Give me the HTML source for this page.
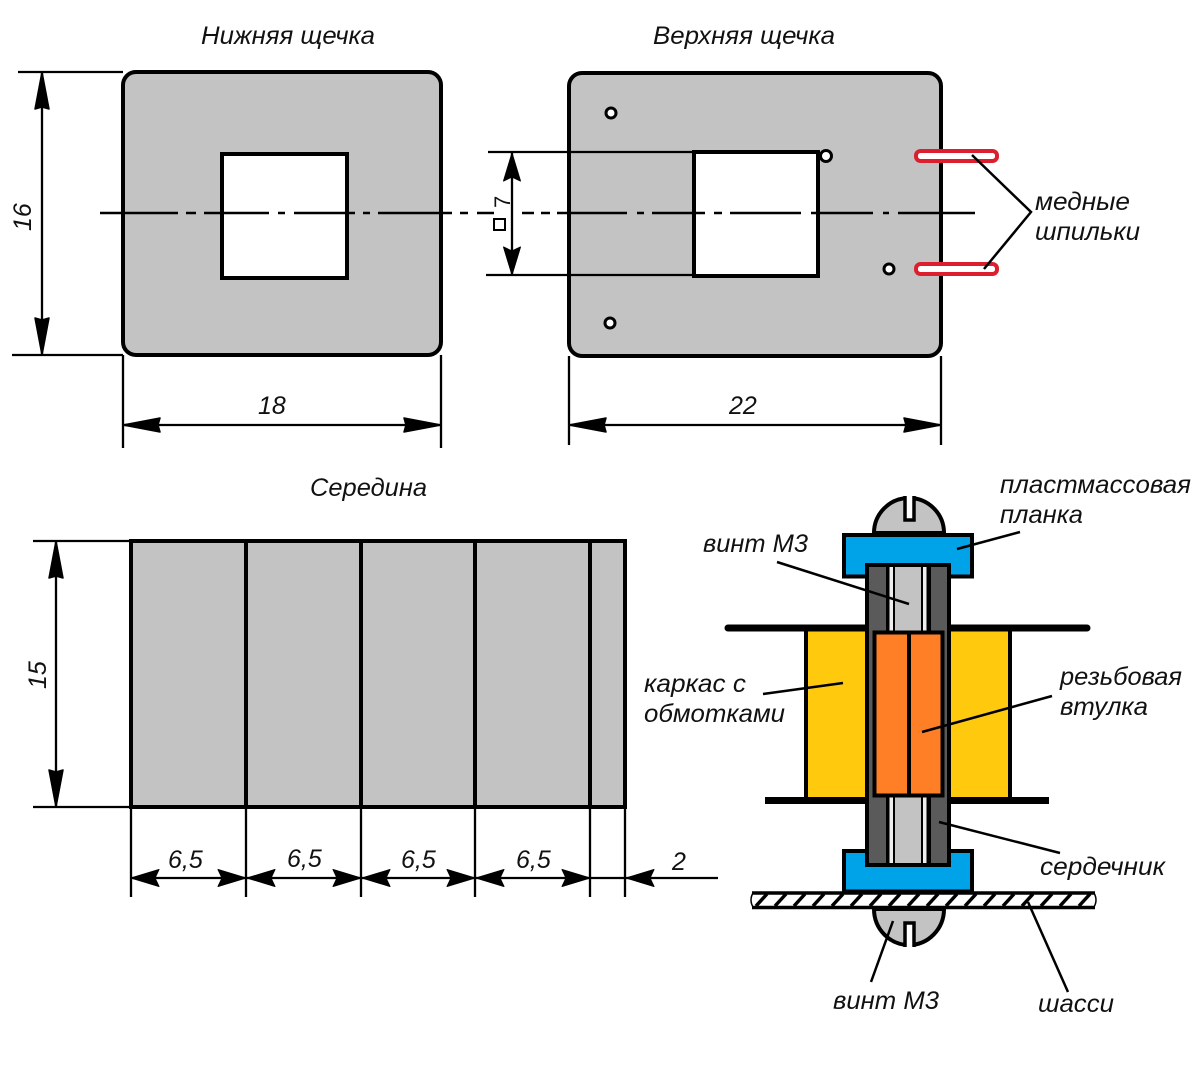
<!DOCTYPE html>
<html lang="ru">
<head>
<meta charset="utf-8">
<title>Чертёж</title>
<style>
html,body{margin:0;padding:0;background:#fff}
svg{display:block}
text{font-family:"Liberation Sans",sans-serif;font-style:italic;font-size:25px;fill:#111}
</style>
</head>
<body>
<svg xmlns="http://www.w3.org/2000/svg" width="1200" height="1067" viewBox="0 0 1200 1067">
<defs>
<path id="a" d="M0 0L28 -8.500L24 0L28 8.500Z" fill="#000" stroke="#000" stroke-width="1" stroke-linejoin="round"/>
<path id="b" d="M0 0L37 -7L35 0L37 7Z" fill="#000" stroke="#000" stroke-width="1.500" stroke-linejoin="round"/>
</defs>
<rect width="1200" height="1067" fill="#fff"/>

<!-- plates -->
<rect x="123" y="72" width="318" height="283" rx="13" fill="#c3c3c3" stroke="#000" stroke-width="4"/>
<rect x="222" y="154" width="125" height="124" fill="#fff" stroke="#000" stroke-width="4"/>
<rect x="569" y="73" width="372" height="283" rx="13" fill="#c3c3c3" stroke="#000" stroke-width="4"/>
<rect x="694" y="152" width="124" height="124" fill="#fff" stroke="#000" stroke-width="4"/>
<g fill="#fff" stroke="#000" stroke-width="3">
<circle cx="611" cy="113" r="5"/>
<circle cx="610" cy="323" r="5"/>
<circle cx="826" cy="156" r="5.500"/>
<circle cx="889" cy="269" r="5"/>
</g>

<!-- centre line -->
<path stroke="#000" stroke-width="2.500" fill="none" d="M100 213H178M186 213H196M204 213H269M278 213H285M294 213H355M363 213H370M378 213H452M460 213H468M477 213H494M522 213H534M541 213H550M557 213H627M637 213H644M652 213H705M714 213H722M730 213H801M811 213H816M818 213H873M883 213H889M898 213H975"/>

<!-- extension lines top -->
<g stroke="#000" stroke-width="2.300" fill="none">
<path d="M18 72H123M12 355H123M123 355V448M441 355V448M569 356V445M941 356V445M488 152H694M486 275H694"/>
<path d="M42 72V355M123 425H441M569 425H941M512 153V275"/>
<path d="M33 541H131M33 807H131M56 541V807"/>
<path d="M131 807V897M246 807V897M361 807V897M475 807V897M590 807V897M625 807V897M131 878H718"/>
</g>

<!-- arrowheads -->
<use href="#b" transform="translate(42 72) rotate(90)"/>
<use href="#b" transform="translate(42 355) rotate(-90)"/>
<use href="#b" transform="translate(123 425)"/>
<use href="#b" transform="translate(441 425) rotate(180)"/>
<use href="#b" transform="translate(569 425)"/>
<use href="#b" transform="translate(941 425) rotate(180)"/>
<use href="#a" transform="translate(512 153) rotate(90)"/>
<use href="#a" transform="translate(512 275) rotate(-90)"/>
<use href="#b" transform="translate(56 541) rotate(90)"/>
<use href="#b" transform="translate(56 807) rotate(-90)"/>
<use href="#a" transform="translate(131 878)"/>
<use href="#a" transform="translate(246 878) rotate(180)"/>
<use href="#a" transform="translate(247 878)"/>
<use href="#a" transform="translate(361 878) rotate(180)"/>
<use href="#a" transform="translate(362 878)"/>
<use href="#a" transform="translate(475 878) rotate(180)"/>
<use href="#a" transform="translate(476 878)"/>
<use href="#a" transform="translate(590 878) rotate(180)"/>
<use href="#a" transform="translate(626 878)"/>

<!-- pins -->
<g fill="#fff" stroke="#dc1f2e" stroke-width="4">
<rect x="916" y="151" width="81" height="10" rx="4.500"/>
<rect x="916" y="264" width="81" height="10" rx="4.500"/>
</g>
<path d="M972 155L1031 212L984 269" fill="none" stroke="#000" stroke-width="2.500"/>

<!-- middle -->
<rect x="131" y="541" width="494" height="266" fill="#c3c3c3" stroke="#000" stroke-width="4"/>
<path d="M246 541V807M361 541V807M475 541V807M590 541V807" stroke="#000" stroke-width="4"/>

<!-- section: top screw -->
<path d="M874 533A35 35 0 0 1 944 533Z" fill="#c3c3c3" stroke="#000" stroke-width="4"/>
<path d="M905 496V520H914V496" fill="#fff" stroke="#000" stroke-width="3.500"/>

<!-- bottom screw -->
<path d="M874 909A35 36 0 0 0 944 909Z" fill="#c3c3c3" stroke="#000" stroke-width="4"/>
<path d="M905 947V923H914V947" fill="#fff" stroke="#000" stroke-width="3.500"/>

<!-- chassis -->
<path d="M752 893H1095M752 907.500H1095" stroke="#000" stroke-width="3.500" fill="none"/>
<path d="M753 893Q749 900 753 907M1094 893Q1098 900 1094 907" stroke="#000" stroke-width="1.500" fill="none"/>
<path stroke="#000" stroke-width="3.500" fill="none" d="M756 906L767 894M775 906L786 894M794 906L805 894M813 906L824 894M832 906L843 894M851 906L862 894M870 906L881 894M889 906L900 894M908 906L919 894M927 906L938 894M946 906L957 894M965 906L976 894M984 906L995 894M1003 906L1014 894M1022 906L1033 894M1041 906L1052 894M1060 906L1071 894M1079 906L1090 894"/>

<!-- blue bars -->
<rect x="844" y="535" width="128" height="41.500" fill="#00a2e8" stroke="#000" stroke-width="4"/>
<path d="M844 891.500V851H972V891.500Z" fill="#00a2e8" stroke="#000" stroke-width="4"/>

<!-- yellow bobbin -->
<rect x="806" y="628" width="204" height="172" fill="#ffc90e" stroke="#000" stroke-width="4"/>
<path d="M728 628H1087" stroke="#000" stroke-width="7" stroke-linecap="round"/>
<path d="M765 800.500H1049" stroke="#000" stroke-width="7"/>

<!-- core -->
<rect x="867" y="565" width="82" height="300" fill="#5a5a5a" stroke="#000" stroke-width="4"/>
<rect x="886" y="567" width="45" height="296" fill="#000"/>
<rect x="889.500" y="567" width="3.500" height="296" fill="#eee"/>
<rect x="895" y="567" width="26" height="296" fill="#c3c3c3"/>
<rect x="923" y="567" width="3.500" height="296" fill="#eee"/>
<!-- bushing -->
<rect x="874.500" y="632.500" width="68" height="163" fill="#ff7f27" stroke="#000" stroke-width="4"/>
<path d="M909 632V796" stroke="#000" stroke-width="4"/>

<!-- leaders -->
<g stroke="#000" stroke-width="2.500" fill="none">
<path d="M777 562L909 604"/>
<path d="M1020 532L957 549"/>
<path d="M763 694L843 683"/>
<path d="M1052 696L922 732"/>
<path d="M939 822L1060 853"/>
<path d="M893 921L871 982"/>
<path d="M1028 902L1068 992"/>
</g>

<!-- labels -->
<text x="201" y="44" textLength="174" lengthAdjust="spacingAndGlyphs">Нижняя щечка</text>
<text x="653" y="44" textLength="182" lengthAdjust="spacingAndGlyphs">Верхняя щечка</text>
<text x="310" y="496" textLength="117" lengthAdjust="spacingAndGlyphs">Середина</text>
<text x="1035" y="210" textLength="95" lengthAdjust="spacingAndGlyphs">медные</text>
<text x="1035" y="240" textLength="105" lengthAdjust="spacingAndGlyphs">шпильки</text>
<text x="1000" y="493" textLength="191" lengthAdjust="spacingAndGlyphs">пластмассовая</text>
<text x="1000" y="523" textLength="83" lengthAdjust="spacingAndGlyphs">планка</text>
<text x="703" y="552" textLength="105" lengthAdjust="spacingAndGlyphs">винт М3</text>
<text x="644" y="692" textLength="102" lengthAdjust="spacingAndGlyphs">каркас с</text>
<text x="644" y="722" textLength="141" lengthAdjust="spacingAndGlyphs">обмотками</text>
<text x="1060" y="685" textLength="122" lengthAdjust="spacingAndGlyphs">резьбовая</text>
<text x="1060" y="715" textLength="88" lengthAdjust="spacingAndGlyphs">втулка</text>
<text x="1040" y="875" textLength="125" lengthAdjust="spacingAndGlyphs">сердечник</text>
<text x="833" y="1009" textLength="106" lengthAdjust="spacingAndGlyphs">винт М3</text>
<text x="1038" y="1012" textLength="76" lengthAdjust="spacingAndGlyphs">шасси</text>

<text x="258" y="414">18</text>
<text x="729" y="414">22</text>
<text x="168" y="868">6,5</text>
<text x="287" y="867">6,5</text>
<text x="401" y="868">6,5</text>
<text x="516" y="868">6,5</text>
<text x="672" y="870">2</text>
<text transform="translate(31 231) rotate(-90)">16</text>
<text transform="translate(46 689) rotate(-90)">15</text>

<rect x="494" y="219" width="11" height="11" fill="#fff" stroke="#000" stroke-width="2"/>
<text transform="translate(510 208) rotate(-90)" style="font-style:normal;font-size:22px">7</text>
</svg>
</body>
</html>
